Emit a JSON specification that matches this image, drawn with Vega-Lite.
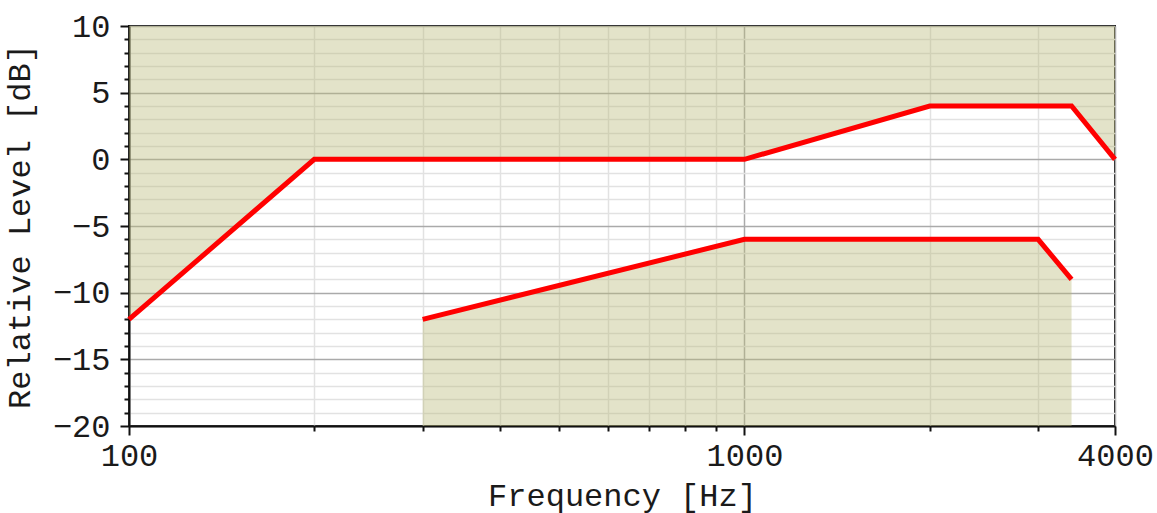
{
  "$schema": "https://vega.github.io/schema/vega-lite/v6.json",
  "width": 986,
  "height": 400,
  "autosize": {"type": "none"},
  "padding": {"left": 129, "top": 26, "right": 42, "bottom": 87},
  "background": "white",
  "config": {
    "view": {"stroke": "#111", "strokeWidth": 2},
    "font": "Liberation Mono",
    "axis": {
      "labelFont": "Liberation Mono",
      "titleFont": "Liberation Mono",
      "labelFontSize": 32,
      "titleFontSize": 32,
      "titleFontWeight": "normal",
      "labelColor": "#1a1a1a",
      "titleColor": "#1a1a1a",
      "domainColor": "#111",
      "domainWidth": 2,
      "tickColor": "#111",
      "tickWidth": 2
    }
  },
  "datasets": {
    "upper": [
      {"freq": 100, "level": -12},
      {"freq": 200, "level": 0},
      {"freq": 1000, "level": 0},
      {"freq": 2000, "level": 4},
      {"freq": 3400, "level": 4},
      {"freq": 4000, "level": 0}
    ],
    "lower": [
      {"freq": 300, "level": -12},
      {"freq": 1000, "level": -6},
      {"freq": 3000, "level": -6},
      {"freq": 3400, "level": -9}
    ]
  },
  "resolve": {"axis": {"x": "independent", "y": "independent"}},
  "layer": [
    {
      "data": {"name": "upper"},
      "mark": {"type": "area", "color": "#b9b878", "opacity": 0.4},
      "encoding": {
        "x": {
          "field": "freq", "type": "quantitative",
          "scale": {"type": "log", "domain": [100, 4000], "nice": false},
          "axis": {
            "orient": "bottom",
            "values": [200, 300, 400, 500, 600, 700, 800, 900, 2000, 3000],
            "labels": false, "title": null, "domain": false,
            "tickSize": 5, "grid": true, "gridColor": "#e2e2e2", "gridWidth": 1.5
          }
        },
        "y": {
          "field": "level", "type": "quantitative",
          "scale": {"domain": [-20, 10], "nice": false, "zero": false},
          "axis": {
            "orient": "left",
            "values": [-19, -18, -17, -16, -14, -13, -12, -11, -9, -8, -7, -6, -4, -3, -2, -1, 1, 2, 3, 4, 6, 7, 8, 9],
            "labels": false, "title": null, "domain": false,
            "tickSize": 5, "grid": true, "gridColor": "#e2e2e2", "gridWidth": 1.5
          }
        },
        "y2": {"datum": 10}
      }
    },
    {
      "data": {"name": "lower"},
      "mark": {"type": "area", "color": "#b9b878", "opacity": 0.4},
      "encoding": {
        "x": {
          "field": "freq", "type": "quantitative",
          "scale": {"type": "log", "domain": [100, 4000], "nice": false},
          "axis": {
            "orient": "bottom",
            "values": [100, 1000, 4000],
            "format": "d",
            "title": "Frequency [Hz]",
            "tickSize": 9, "labelPadding": 5, "titlePadding": 9,
            "grid": true, "gridColor": "#aaaaaa", "gridWidth": 1.5,
            "labelFlush": false
          }
        },
        "y": {
          "field": "level", "type": "quantitative",
          "scale": {"domain": [-20, 10], "nice": false, "zero": false},
          "axis": {
            "orient": "left",
            "values": [-20, -15, -10, -5, 0, 5, 10],
            "title": "Relative Level [dB]",
            "tickSize": 9, "labelPadding": 10, "titlePadding": 16,
            "grid": true, "gridColor": "#aaaaaa", "gridWidth": 1.5
          }
        },
        "y2": {"datum": -20}
      }
    },
    {
      "data": {"name": "upper"},
      "mark": {"type": "line", "color": "#ff0000", "strokeWidth": 5},
      "encoding": {
        "x": {"field": "freq", "type": "quantitative", "scale": {"type": "log", "domain": [100, 4000], "nice": false}, "axis": null},
        "y": {"field": "level", "type": "quantitative", "scale": {"domain": [-20, 10], "nice": false, "zero": false}, "axis": null}
      }
    },
    {
      "data": {"name": "lower"},
      "mark": {"type": "line", "color": "#ff0000", "strokeWidth": 5},
      "encoding": {
        "x": {"field": "freq", "type": "quantitative", "scale": {"type": "log", "domain": [100, 4000], "nice": false}, "axis": null},
        "y": {"field": "level", "type": "quantitative", "scale": {"domain": [-20, 10], "nice": false, "zero": false}, "axis": null}
      }
    }
  ]
}
